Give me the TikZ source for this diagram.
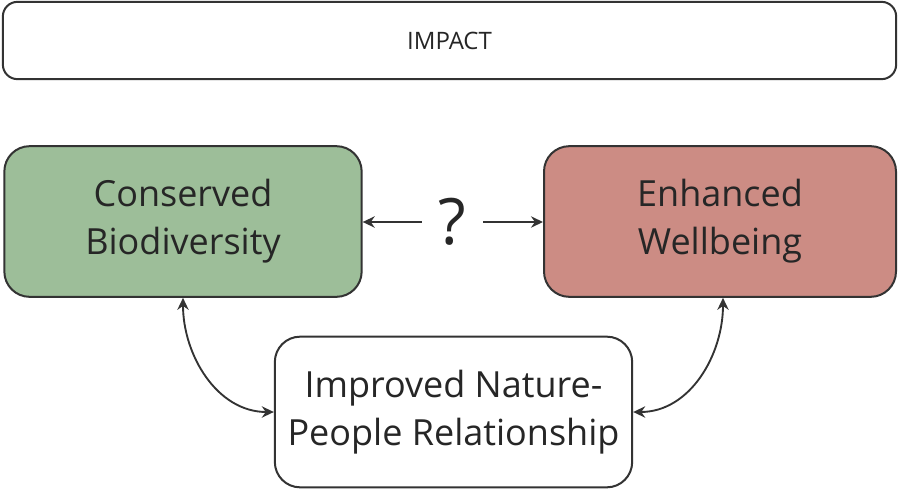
\documentclass[tikz,border=0pt]{standalone}
\usepackage{fontspec}
\setmainfont{Open Sans}
\usetikzlibrary{arrows.meta}
\definecolor{consgreen}{RGB}{157,190,153}
\definecolor{wellred}{RGB}{204,140,132}
\definecolor{edgegray}{RGB}{51,51,51}

\begin{document}
\begin{tikzpicture}[x=0.75pt,y=-0.75pt,
	box/.style={draw=edgegray, line width=1.5pt, rounded corners=19pt, align=center,
		text=black!85, font=\fontsize{27}{36}\selectfont, inner sep=0pt,
		minimum width=268pt, minimum height=113pt},
	link/.style={edgegray, line width=1.4pt, {Stealth[length=9pt,width=8.5pt]}-{Stealth[length=9pt,width=8.5pt]}},
	oneway/.style={edgegray, line width=1.4pt, -{Stealth[length=9pt,width=8.5pt]}}]
			\useasboundingbox (0,0) rectangle (899,489);
			%top banner
			\node[box, rounded corners=11pt, minimum width=670pt, minimum height=58pt,
				font=\fontsize{18}{22}\selectfont] (impact) at (449.5,40.5) {IMPACT};
			%the three outcomes
			\node[box, fill=consgreen] (biodiv) at (183,221.5) {Conserved\\Biodiversity};
			\node[box, fill=wellred, minimum width=264pt] (wellbeing) at (720,221.5) {Enhanced\\Wellbeing};
			\node[box, fill=white] (relation) at (453.5,412) {Improved Nature-\\People Relationship};
			%unknown link
			\node[text=black!85, font=\fontsize{48}{52}\selectfont, minimum width=46pt, inner sep=0pt] (query) at (452.5,222) {?};
			\draw[oneway] (query.west) -- (biodiv.east |- query.west);
			\draw[oneway] (query.east) -- (wellbeing.west |- query.east);
			%two-way links through the relationship
			\draw[link] (biodiv.south) to[out=-90, in=180] (relation.west);
			\draw[link] (wellbeing.south -| 723,0) to[out=-90, in=0] (relation.east);
		\end{tikzpicture}
\end{document}
